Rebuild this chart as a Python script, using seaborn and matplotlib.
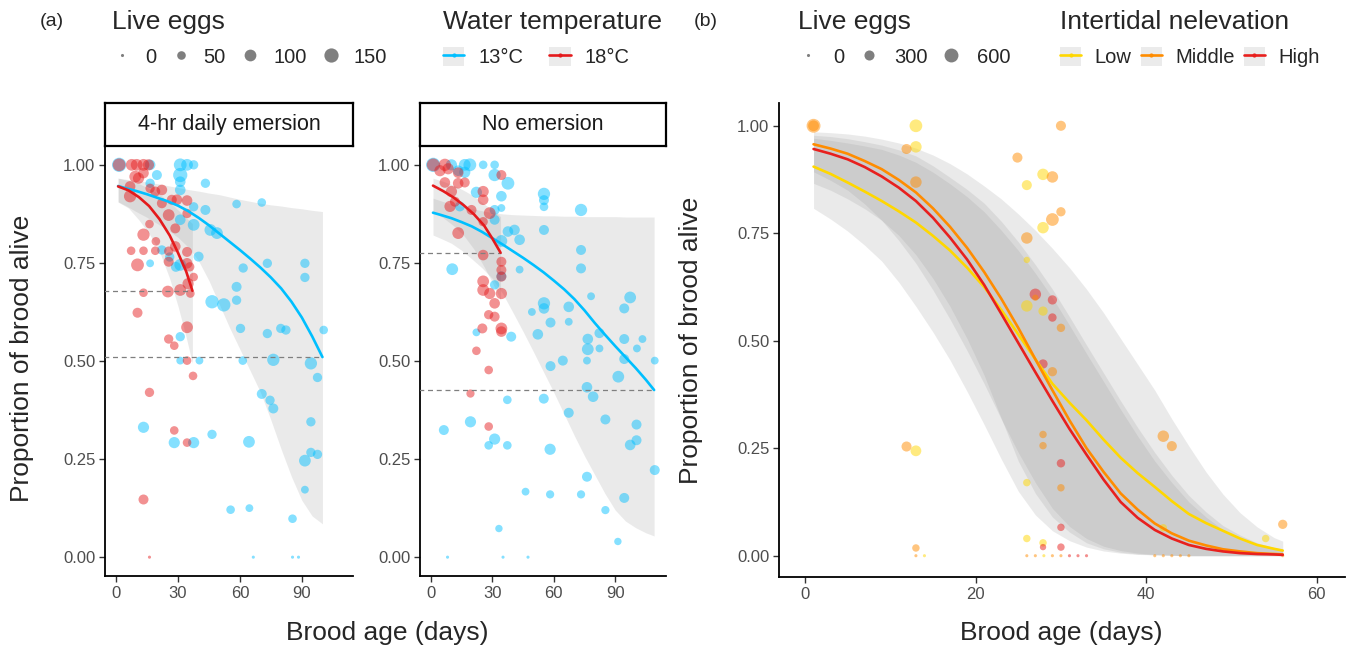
import numpy as np
import pandas as pd
import matplotlib
matplotlib.use('Agg')
import matplotlib.pyplot as plt
from matplotlib.lines import Line2D
from matplotlib.patches import Rectangle
import seaborn as sns

# ---------------- data ----------------
# panel (a), facet "4-hr daily emersion"
f1_blue_day = [1.5, 16.5, 31.1, 34.4, 37.6, 31.1, 31.1, 31.1, 19.8, 43.3, 16.5, 58.4, 70.6, 37.6, 43.3,
               31.1, 37.6, 45.7, 48.9, 22.2, 16.5, 31.1, 40.0, 61.6, 73.3, 91.5, 91.5, 58.4, 58.4, 46.5,
               52.2, 31.1, 60.3, 73.3, 79.8, 82.3, 100.6, 31.1, 40.4, 61.4, 76.2, 94.4, 97.6, 70.6, 74.6,
               76.2, 94.4, 13.3, 28.2, 37.6, 46.5, 64.4, 91.5, 94.4, 97.6, 91.5, 55.5, 64.6, 85.5, 66.5,
               85.5, 88.4, 26.0, 29.0]
f1_blue_prop = [1.0, 1.0, 1.0, 1.0, 1.0, 0.974, 0.957, 0.936, 0.974, 0.953, 0.953, 0.90, 0.904, 0.893, 0.885,
                0.86, 0.847, 0.834, 0.826, 0.783, 0.749, 0.745, 0.766, 0.737, 0.749, 0.749, 0.713, 0.689, 0.655, 0.651,
                0.643, 0.562, 0.583, 0.570, 0.583, 0.579, 0.579, 0.501, 0.501, 0.501, 0.503, 0.494, 0.458, 0.416, 0.400,
                0.379, 0.345, 0.331, 0.292, 0.292, 0.313, 0.294, 0.246, 0.267, 0.262, 0.172, 0.121, 0.125, 0.098, 0.0,
                0.0, 0.0, 0.765, 0.74]
f1_blue_eggs = [150, 80, 120, 100, 60, 150, 80, 80, 70, 60, 60, 50, 50, 60, 70,
                80, 100, 100, 100, 60, 40, 100, 70, 60, 60, 60, 60, 70, 60, 130,
                130, 60, 60, 60, 60, 60, 50, 40, 40, 50, 110, 110, 60, 70, 60,
                70, 60, 90, 90, 90, 60, 100, 100, 60, 60, 40, 50, 40, 50, 0,
                0, 0, 60, 70]

f1_red_day = [1.5, 7.6, 10.0, 13.3, 15.7, 9.3, 10.9, 13.3, 6.8, 6.8, 16.5, 22.2, 19.0, 27.0, 29.5, 34.4, 22.2,
              25.5, 34.4, 28.7, 16.2, 13.3, 19.3, 7.3, 13.3, 19.0, 25.5, 10.4, 28.7, 25.5, 34.4, 34.4, 35.7,
              37.6, 34.9, 31.1, 25.1, 13.3, 36.0, 10.4, 34.4, 25.5, 28.2, 34.4, 37.3, 16.2, 28.2, 34.4, 13.3, 16.2]
f1_red_prop = [1.0, 1.0, 1.0, 1.0, 1.0, 0.97, 0.966, 0.979, 0.945, 0.92, 0.94, 0.936, 0.932, 0.911, 0.911, 0.909, 0.902,
               0.872, 0.876, 0.838, 0.849, 0.822, 0.805, 0.781, 0.781, 0.781, 0.753, 0.745, 0.792, 0.780, 0.778, 0.749, 0.74,
               0.714, 0.697, 0.681, 0.677, 0.674, 0.672, 0.623, 0.586, 0.556, 0.539, 0.501, 0.462, 0.420, 0.323, 0.292, 0.147, 0.0]
f1_red_eggs = [120, 100, 100, 100, 90, 100, 90, 80, 80, 110, 60, 80, 70, 70, 80, 80, 70,
               100, 60, 70, 50, 110, 50, 50, 50, 50, 70, 120, 80, 60, 70, 80, 60,
               50, 90, 100, 100, 50, 50, 70, 100, 60, 50, 50, 50, 60, 50, 50, 70, 0]

# panel (a), facet "No emersion"
f2_blue_day = [1.1, 10.0, 16.5, 19.0, 25.5, 31.1, 13.3, 16.5, 31.1, 37.6, 22.2, 34.4, 55.2, 55.2, 55.2, 73.3, 31.1,
               34.4, 14.1, 31.1, 37.6, 40.8, 43.3, 34.4, 55.2, 73.3, 73.3, 10.4, 43.3, 34.4, 31.1, 78.2, 97.3,
               94.4, 55.2, 55.2, 67.3, 49.3, 58.4, 67.3, 76.6, 82.3, 94.4, 103.3, 52.2, 76.6, 82.3, 100.6, 39.2,
               22.2, 94.4, 109.3, 76.2, 64.4, 58.4, 91.5, 76.2, 79.2, 55.1, 37.3, 67.3, 85.2, 100.4, 100.4, 97.3,
               6.3, 19.3, 31.1, 28.2, 37.3, 58.2, 76.2, 109.3, 94.4, 46.2, 58.2, 73.3, 85.2, 33.2, 91.3, 8.1,
               35.2, 47.4]
f2_blue_prop = [1.0, 1.0, 1.0, 1.0, 1.0, 1.0, 0.985, 0.981, 0.974, 0.953, 0.930, 0.92, 0.926, 0.91, 0.893, 0.885, 0.885,
                0.89, 0.894, 0.86, 0.83, 0.834, 0.809, 0.806, 0.834, 0.783, 0.736, 0.734, 0.733, 0.716, 0.694, 0.665, 0.662,
                0.634, 0.647, 0.634, 0.638, 0.625, 0.598, 0.6, 0.556, 0.571, 0.556, 0.556, 0.568, 0.53, 0.532, 0.532, 0.562,
                0.573, 0.505, 0.501, 0.501, 0.501, 0.487, 0.46, 0.433, 0.409, 0.404, 0.401, 0.368, 0.351, 0.338, 0.298, 0.286,
                0.324, 0.345, 0.301, 0.285, 0.285, 0.275, 0.205, 0.222, 0.151, 0.167, 0.16, 0.16, 0.12, 0.073, 0.04, 0.0,
                0.0, 0.0]
f2_blue_eggs = [150, 90, 100, 120, 50, 50, 80, 90, 110, 120, 90, 80, 110, 70, 50, 110, 70,
                40, 70, 70, 80, 80, 80, 100, 70, 70, 70, 100, 40, 70, 60, 40, 100,
                70, 110, 80, 80, 40, 70, 40, 80, 70, 70, 40, 80, 100, 40, 40, 70,
                40, 70, 40, 40, 70, 70, 100, 80, 80, 70, 50, 70, 70, 70, 70, 80,
                70, 90, 90, 50, 50, 90, 70, 70, 70, 40, 45, 45, 45, 35, 35, 0,
                0, 0]

f2_red_day = [1.1, 6.8, 4.4, 8.4, 13.3, 34.4, 6.8, 13.3, 16.5, 10.0, 25.5, 11.7, 25.5, 9.3, 28.7, 19.8, 13.3, 25.5,
              25.5, 34.4, 34.4, 34.4, 25.5, 25.5, 28.7, 34.4, 31.1, 28.2, 31.1, 34.4, 34.4, 25.1, 22.2, 28.2, 19.3, 28.2]
f2_red_prop = [1.0, 1.0, 0.985, 0.99, 0.98, 0.974, 0.955, 0.953, 0.955, 0.932, 0.932, 0.906, 0.911, 0.894, 0.877, 0.885,
               0.826, 0.855, 0.77, 0.753, 0.732, 0.715, 0.703, 0.681, 0.672, 0.672, 0.647, 0.618, 0.613, 0.583, 0.575,
               0.583, 0.526, 0.477, 0.417, 0.333]
f2_red_eggs = [120, 110, 90, 90, 80, 70, 80, 80, 70, 90, 90, 70, 80, 90, 100, 70, 100, 60,
               80, 70, 70, 70, 100, 100, 90, 90, 80, 60, 70, 100, 80, 70, 50, 50, 45, 50]

# fitted curves and 95% bands, panel (a)
f1_blue_fit_day = [1, 5, 10, 15, 20, 25, 30, 35, 40, 45, 50, 55, 60, 65, 70, 75, 80, 85, 90, 95, 100]
f1_blue_fit = [0.946, 0.940, 0.933, 0.925, 0.916, 0.907, 0.896, 0.882, 0.865, 0.846, 0.825, 0.804, 0.783,
               0.761, 0.738, 0.713, 0.685, 0.651, 0.611, 0.563, 0.51]
f1_blue_hi = [0.966, 0.963, 0.96, 0.956, 0.952, 0.947, 0.942, 0.937, 0.933, 0.928, 0.924, 0.918, 0.912,
              0.907, 0.902, 0.898, 0.895, 0.891, 0.888, 0.884, 0.881]
f1_blue_lo = [0.906, 0.895, 0.88, 0.866, 0.85, 0.834, 0.815, 0.79, 0.755, 0.705, 0.645, 0.585, 0.53,
              0.475, 0.42, 0.35, 0.275, 0.205, 0.145, 0.105, 0.085]
f1_red_fit_day = [1, 6, 11, 16, 21, 26, 30, 34, 37]
f1_red_fit = [0.945, 0.935, 0.918, 0.895, 0.862, 0.82, 0.776, 0.728, 0.679]
f1_red_hi = [0.966, 0.96, 0.952, 0.94, 0.925, 0.905, 0.885, 0.865, 0.85]
f1_red_lo = [0.905, 0.89, 0.86, 0.825, 0.78, 0.71, 0.64, 0.56, 0.494]

f2_blue_fit_day = [1, 5, 10, 15, 20, 25, 30, 35, 40, 45, 50, 55, 60, 65, 70, 75, 80, 85, 90, 95, 100, 105, 109]
f2_blue_fit = [0.878, 0.872, 0.864, 0.854, 0.843, 0.829, 0.813, 0.797, 0.78, 0.763, 0.745, 0.726, 0.705,
               0.683, 0.658, 0.629, 0.597, 0.567, 0.538, 0.51, 0.482, 0.452, 0.426]
f2_blue_hi = [0.915, 0.908, 0.9, 0.894, 0.888, 0.883, 0.878, 0.875, 0.873, 0.872, 0.871, 0.87, 0.87,
              0.869, 0.869, 0.868, 0.868, 0.868, 0.868, 0.867, 0.867, 0.867, 0.867]
f2_blue_lo = [0.821, 0.812, 0.80, 0.782, 0.76, 0.737, 0.71, 0.672, 0.624, 0.575, 0.524, 0.472, 0.42,
              0.365, 0.31, 0.258, 0.21, 0.162, 0.12, 0.092, 0.075, 0.062, 0.054]
f2_red_fit_day = [1, 6, 11, 16, 21, 26, 30, 34]
f2_red_fit = [0.947, 0.933, 0.917, 0.897, 0.874, 0.845, 0.812, 0.776]
f2_red_hi = [0.966, 0.958, 0.948, 0.935, 0.92, 0.9, 0.885, 0.868]
f2_red_lo = [0.88, 0.865, 0.845, 0.82, 0.785, 0.74, 0.70, 0.655]

# panel (b)
b_day = [1, 1, 13, 13, 11.9, 13, 24.9, 27.9, 29, 26, 30, 30, 29, 27.9, 26, 26, 27, 27, 29, 26, 27.9, 29, 30,
         27.9, 29, 27.9, 27.9, 30, 30, 26, 30, 30, 11.9, 13, 13, 13, 14, 26, 27.9, 27.9, 26, 27, 28, 29, 30,
         31, 32, 33, 41, 42, 43, 44, 45, 42, 43, 42, 56, 54, 56]
b_prop = [1.0, 1.0, 1.0, 0.951, 0.946, 0.869, 0.926, 0.887, 0.881, 0.862, 1.0, 0.80, 0.782, 0.763, 0.739, 0.688,
          0.608, 0.600, 0.595, 0.581, 0.569, 0.554, 0.53, 0.446, 0.428, 0.282, 0.256, 0.215, 0.158, 0.17, 0.066,
          0.02, 0.254, 0.244, 0.018, 0.0, 0.0, 0.04, 0.03, 0.02, 0.0, 0.0, 0.0, 0.0, 0.0, 0.0, 0.0, 0.0, 0.0, 0.0,
          0.0, 0.0, 0.0, 0.278, 0.255, 0.065, 0.073, 0.04, 0.0]
b_eggs = [600, 350, 500, 400, 300, 400, 300, 400, 400, 300, 300, 250, 500, 400, 400, 100, 400, 100, 250, 400,
          250, 200, 200, 250, 250, 150, 150, 200, 150, 150, 150, 150, 300, 350, 150, 0, 0, 150, 150, 100, 0, 0,
          0, 0, 0, 0, 0, 0, 0, 0, 0, 0, 0, 400, 300, 150, 250, 150, 0]
b_elev = ['Middle', 'Middle', 'Low', 'Low', 'Middle', 'Middle', 'Middle', 'Low', 'Middle', 'Low', 'Middle',
          'Middle', 'Middle', 'Low', 'Middle', 'Low', 'High', 'Middle', 'High', 'Low', 'Low', 'High', 'Middle',
          'High', 'Middle', 'Middle', 'Middle', 'High', 'Middle', 'Low', 'High', 'High', 'Middle', 'Low', 'Middle',
          'Middle', 'Low', 'Low', 'Low', 'High', 'Middle', 'Middle', 'Low', 'Middle', 'Middle', 'High', 'High',
          'High', 'Middle', 'Middle', 'Middle', 'Middle', 'Middle', 'Middle', 'Middle', 'Low', 'Middle', 'Low',
          'Middle']

b_fit_day = [1, 3, 5, 7, 9, 11, 13, 15, 17, 19, 21, 23, 25, 27, 29, 31, 33, 35, 37, 39, 41, 43, 45, 47, 49,
             51, 53, 55, 56]
b_low_fit = [0.905, 0.888, 0.868, 0.847, 0.825, 0.801, 0.775, 0.744, 0.71, 0.67, 0.625, 0.572, 0.515, 0.457,
             0.40, 0.356, 0.315, 0.27, 0.228, 0.192, 0.16, 0.127, 0.097, 0.076, 0.058, 0.04, 0.025, 0.016, 0.012]
b_mid_fit = [0.957, 0.947, 0.935, 0.918, 0.899, 0.874, 0.845, 0.808, 0.765, 0.716, 0.66, 0.598, 0.53, 0.457,
             0.385, 0.315, 0.25, 0.195, 0.145, 0.107, 0.075, 0.052, 0.035, 0.024, 0.015, 0.010, 0.006, 0.004, 0.003]
b_high_fit = [0.946, 0.935, 0.922, 0.904, 0.882, 0.856, 0.825, 0.786, 0.74, 0.689, 0.63, 0.563, 0.495, 0.427,
              0.36, 0.295, 0.235, 0.177, 0.125, 0.088, 0.06, 0.04, 0.025, 0.016, 0.01, 0.006, 0.004, 0.003, 0.002]
b_low_hi = [0.986, 0.984, 0.981, 0.976, 0.969, 0.96, 0.948, 0.932, 0.912, 0.888, 0.86, 0.83, 0.795, 0.757,
            0.715, 0.67, 0.62, 0.565, 0.505, 0.445, 0.385, 0.318, 0.255, 0.195, 0.143, 0.1, 0.067, 0.042, 0.034]
b_low_lo = [0.808, 0.783, 0.755, 0.722, 0.685, 0.636, 0.58, 0.52, 0.455, 0.382, 0.305, 0.225, 0.15, 0.095,
            0.058, 0.035, 0.02, 0.011, 0.006, 0.003, 0.002, 0.001, 0, 0, 0, 0, 0, 0, 0]
b_mid_hi = [0.978, 0.975, 0.97, 0.963, 0.955, 0.944, 0.93, 0.907, 0.88, 0.852, 0.82, 0.778, 0.73, 0.677,
            0.62, 0.556, 0.49, 0.425, 0.36, 0.298, 0.24, 0.187, 0.14, 0.102, 0.07, 0.048, 0.03, 0.019, 0.015]
b_mid_lo = [0.893, 0.873, 0.85, 0.818, 0.78, 0.733, 0.68, 0.618, 0.55, 0.477, 0.40, 0.318, 0.24, 0.17,
            0.11, 0.068, 0.04, 0.022, 0.012, 0.006, 0.003, 0.001, 0, 0, 0, 0, 0, 0, 0]
b_high_hi = [0.971, 0.966, 0.96, 0.953, 0.945, 0.932, 0.915, 0.892, 0.865, 0.835, 0.80, 0.757, 0.71, 0.657,
             0.60, 0.536, 0.47, 0.405, 0.34, 0.278, 0.22, 0.17, 0.125, 0.09, 0.06, 0.04, 0.025, 0.016, 0.012]
b_high_lo = [0.866, 0.85, 0.83, 0.807, 0.78, 0.745, 0.70, 0.645, 0.58, 0.505, 0.42, 0.32, 0.22, 0.145,
             0.09, 0.055, 0.03, 0.016, 0.008, 0.004, 0.002, 0.001, 0, 0, 0, 0, 0, 0, 0]

temp_labels = ['13°C', '18°C']
elev_labels = ['Low', 'Middle', 'High']
y_ticks = [0, 0.25, 0.5, 0.75, 1.0]
a_x_ticks = [0, 30, 60, 90]
b_x_ticks = [0, 20, 40, 60]
a_size_breaks = [0, 50, 100, 150]
b_size_breaks = [0, 300, 600]

# ---------------- style ----------------
sns.set_theme(style='ticks')
plt.rcParams['font.family'] = ['Liberation Sans', 'DejaVu Sans']

BLUE = '#00BFFF'
RED = '#E41A1C'
temp_pal = {'13°C': BLUE, '18°C': RED}
elev_pal = {'Low': '#FFD700', 'Middle': '#FF8C00', 'High': '#E8201E'}
RIB = '#999999'
TICK_COL = '#4D4D4D'

W, H = 1349, 650
fig = plt.figure(figsize=(W / 100, H / 100), dpi=100)


def frac(x0, y0, x1, y1):
    return [x0 / W, 1 - y1 / H, (x1 - x0) / W, (y1 - y0) / H]


def style_axis(ax, xticks):
    for s in ['top', 'right']:
        ax.spines[s].set_visible(False)
    for s in ['left', 'bottom']:
        ax.spines[s].set_linewidth(1.3)
        ax.spines[s].set_color('black')
    ax.set_yticks(y_ticks)
    ax.set_yticklabels(['%.2f' % v for v in y_ticks])
    ax.set_xticks(xticks)
    ax.tick_params(axis='both', labelsize=12, labelcolor=TICK_COL, color='#333333',
                   length=4, width=1.0, pad=3)
    ax.set_xlabel('')
    ax.set_ylabel('')
    if ax.get_legend() is not None:
        ax.get_legend().remove()


a_sizes = (5, 105)
a_norm = (0, 150)
b_sizes = (5, 100)
b_norm = (0, 600)


def draw_facet(ax, blue_pts, red_pts, blue_fit, red_fit):
    # bands
    for fdays, fit, hi, lo in [blue_fit, red_fit]:
        ax.fill_between(fdays, lo, hi, color=RIB, alpha=0.2, linewidth=0, zorder=1)
    # points
    frames = []
    for lab, (d, p, e) in zip(temp_labels, [blue_pts, red_pts]):
        frames.append(pd.DataFrame({'day': d, 'prop': p, 'eggs': e, 'temp': lab}))
    df = pd.concat(frames, ignore_index=True)
    sns.scatterplot(data=df, x='day', y='prop', hue='temp', size='eggs', palette=temp_pal,
                    sizes=a_sizes, size_norm=a_norm, alpha=0.48, linewidth=0, ax=ax,
                    legend=False, zorder=2)
    # fitted lines and dashed reference lines at the end values
    for (fdays, fit, hi, lo), col in zip([blue_fit, red_fit], [BLUE, RED]):
        sns.lineplot(x=fdays, y=fit, color=col, lw=1.9, ax=ax, zorder=4)
        ax.plot([-10, fdays[-1]], [fit[-1], fit[-1]], color='#7F7F7F', lw=0.9,
                ls=(0, (4, 3)), zorder=3)
    ax.set_xlim(-5.35, 114.8)
    ax.set_ylim(-0.048, 1.048)
    style_axis(ax, a_x_ticks)


ax1 = fig.add_axes(frac(105, 146, 353, 576))
draw_facet(ax1, (f1_blue_day, f1_blue_prop, f1_blue_eggs), (f1_red_day, f1_red_prop, f1_red_eggs),
           (f1_blue_fit_day, f1_blue_fit, f1_blue_hi, f1_blue_lo),
           (f1_red_fit_day, f1_red_fit, f1_red_hi, f1_red_lo))
ax2 = fig.add_axes(frac(420, 146, 666, 576))
draw_facet(ax2, (f2_blue_day, f2_blue_prop, f2_blue_eggs), (f2_red_day, f2_red_prop, f2_red_eggs),
           (f2_blue_fit_day, f2_blue_fit, f2_blue_hi, f2_blue_lo),
           (f2_red_fit_day, f2_red_fit, f2_red_hi, f2_red_lo))

# strips
for (x0, x1), txt in zip([(105, 353), (420, 666)], ['4-hr daily emersion', 'No emersion']):
    sax = fig.add_axes(frac(x0, 103, x1, 146))
    sax.set_xticks([])
    sax.set_yticks([])
    for s in sax.spines.values():
        s.set_linewidth(1.6)
        s.set_color('black')
    sax.text(0.5, 0.5, txt, ha='center', va='center', fontsize=15.5, color='#1A1A1A',
             transform=sax.transAxes)

# panel (b)
ax3 = fig.add_axes(frac(779, 103, 1345, 577))
for hi, lo in [(b_low_hi, b_low_lo), (b_mid_hi, b_mid_lo), (b_high_hi, b_high_lo)]:
    ax3.fill_between(b_fit_day, lo, hi, color=RIB, alpha=0.2, linewidth=0, zorder=1)
dfb = pd.DataFrame({'day': b_day, 'prop': b_prop, 'eggs': b_eggs, 'elev': b_elev})
sns.scatterplot(data=dfb, x='day', y='prop', hue='elev', size='eggs', palette=elev_pal,
                hue_order=elev_labels, sizes=b_sizes, size_norm=b_norm, alpha=0.5,
                linewidth=0, ax=ax3, legend=False, zorder=2)
for fit, lab in zip([b_low_fit, b_mid_fit, b_high_fit], elev_labels):
    sns.lineplot(x=b_fit_day, y=fit, color=elev_pal[lab], lw=1.9, ax=ax3, zorder=4)
ax3.set_xlim(-3.05, 63.3)
ax3.set_ylim(-0.0495, 1.053)
style_axis(ax3, b_x_ticks)

# axis titles
fig.text(22 / W, 1 - 358 / H, 'Proportion of brood alive', rotation=90, ha='center', va='center', fontsize=19)
fig.text(691 / W, 1 - 340 / H, 'Proportion of brood alive', rotation=90, ha='center', va='center', fontsize=19)
fig.text(387 / W, 1 - 633 / H, 'Brood age (days)', ha='center', va='center', fontsize=19)
fig.text(1061 / W, 1 - 633 / H, 'Brood age (days)', ha='center', va='center', fontsize=19)
fig.text(52 / W, 1 - 21 / H, '(a)', ha='center', va='center', fontsize=14)
fig.text(706 / W, 1 - 21 / H, '(b)', ha='center', va='center', fontsize=14)

# legends
leg_kw = dict(loc='upper left', frameon=False, fontsize=14.5, title_fontsize=19, alignment='left',
              borderpad=0, borderaxespad=0, labelspacing=0.65)


def size_handles(breaks, s_range, norm):
    hs = []
    for b in breaks:
        s = s_range[0] + (b - norm[0]) / (norm[1] - norm[0]) * (s_range[1] - s_range[0])
        hs.append(Line2D([], [], marker='o', ls='', color='black', alpha=0.5,
                         markersize=np.sqrt(s), markeredgewidth=0))
    return hs


def line_handles(cols):
    hs = []
    for c in cols:
        bg = Rectangle((0, 0), 1, 1, facecolor='#EBEBEB', edgecolor='none')
        ln = Line2D([], [], color=c, lw=1.9, marker='o', markersize=3, markeredgewidth=0)
        hs.append((bg, ln))
    return hs


top = 1 - 10 / H
fig.legend(size_handles(a_size_breaks, a_sizes, a_norm), [str(b) for b in a_size_breaks],
           ncol=4, title='Live eggs', bbox_to_anchor=(112 / W, top), handlelength=1.0,
           handleheight=1.05, handletextpad=0.65, columnspacing=0.7, **leg_kw)
fig.legend(line_handles([BLUE, RED]), temp_labels, ncol=2, title='Water temperature',
           bbox_to_anchor=(443 / W, top), handlelength=1.05, handleheight=1.05,
           handletextpad=0.7, columnspacing=1.3, **leg_kw)
fig.legend(size_handles(b_size_breaks, b_sizes, b_norm), [str(b) for b in b_size_breaks],
           ncol=3, title='Live eggs', bbox_to_anchor=(798 / W, top), handlelength=1.0,
           handleheight=1.05, handletextpad=0.75, columnspacing=0.7, **leg_kw)
fig.legend(line_handles([elev_pal[k] for k in elev_labels]), elev_labels, ncol=3,
           title='Intertidal nelevation', bbox_to_anchor=(1060 / W, top), handlelength=1.05,
           handleheight=1.05, handletextpad=0.67, columnspacing=0.45, **leg_kw)

fig.savefig('out.png', dpi=100)
